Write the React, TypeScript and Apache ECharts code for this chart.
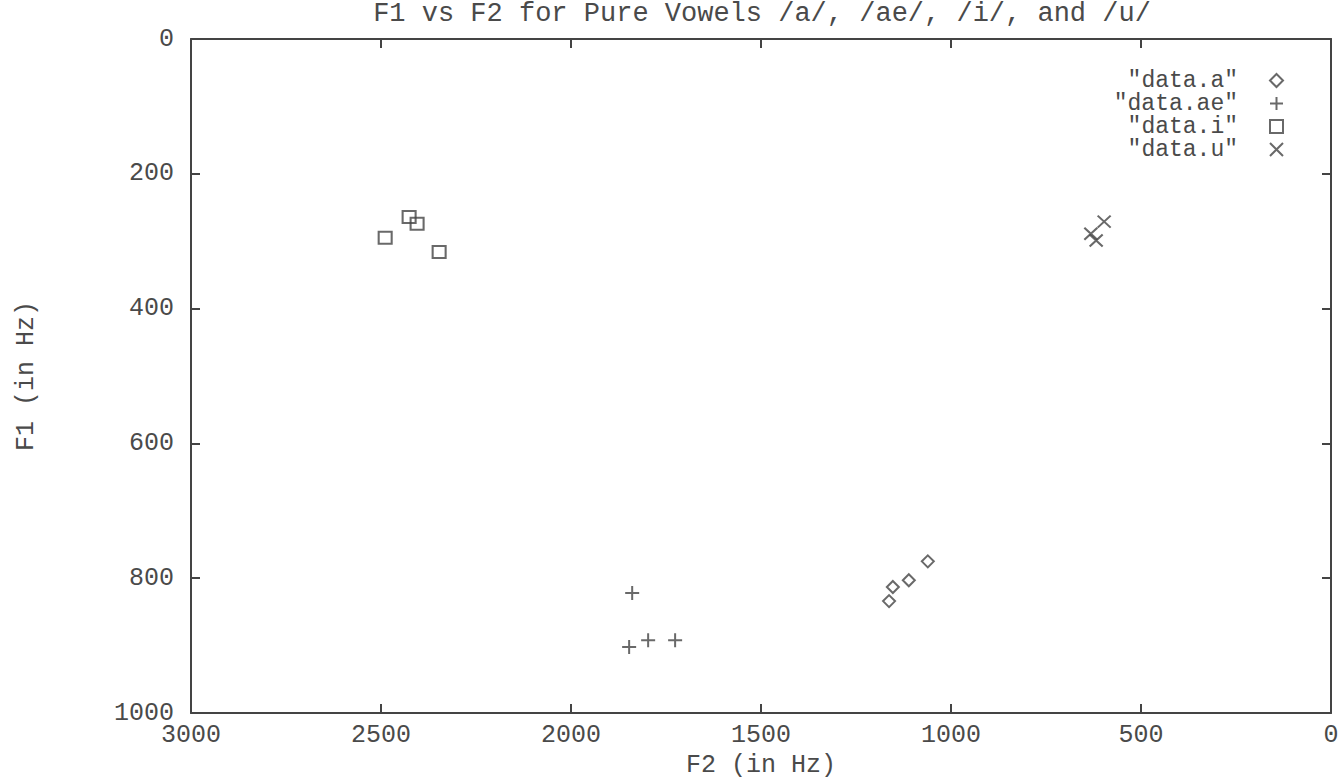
import React, { useEffect, useRef } from "react";
import * as echarts from "echarts";

const titleText = "F1 vs F2 for Pure Vowels /a/, /ae/, /i/, and /u/";
const xName = "F2 (in Hz)";
const yName = "F1 (in Hz)";

// [F2, F1]
const dataA: number[][] = [
  [1061, 775],
  [1111, 803],
  [1153, 813],
  [1163, 834],
];
const dataAE: number[][] = [
  [1839, 822],
  [1847, 902],
  [1797, 892],
  [1726, 892],
];
const dataI: number[][] = [
  [2489, 295],
  [2426, 264],
  [2405, 274],
  [2347, 316],
];
const dataU: number[][] = [
  [597, 271],
  [632, 289],
  [618, 299],
];

const seriesNames = ['"data.a"', '"data.ae"', '"data.i"', '"data.u"'];

const FONT = "Liberation Mono";
const INK = "#444";
const TEXT = "#4a4a4a";

export default function App() {
  const ref = useRef<HTMLDivElement>(null);
  useEffect(() => {
    document.body.style.margin = "0";
    if (!ref.current) return;
    const chart = echarts.init(ref.current, null, { renderer: "svg" });
    const hollow = {
      color: "transparent",
      borderColor: INK,
      borderWidth: 2,
    };
    const tick = { show: true, inside: true, length: 9, lineStyle: { color: INK, width: 2 } };
    const line = { show: true, onZero: false, lineStyle: { color: INK, width: 2 } };
    const baseAxisX = {
      type: "value" as const,
      min: 0,
      max: 3000,
      interval: 500,
      inverse: true,
      splitLine: { show: false },
      axisLine: line,
      axisTick: tick,
    };
    const baseAxisY = {
      type: "value" as const,
      min: 0,
      max: 1000,
      interval: 200,
      inverse: true,
      splitLine: { show: false },
      axisLine: line,
      axisTick: tick,
    };
    const labelStyle = { color: TEXT, fontFamily: FONT, fontSize: 25 };
    const fmt = (v: number) => String(v);
    chart.setOption({
      animation: false,
      backgroundColor: "#fff",
      title: {
        text: titleText,
        left: 762,
        textAlign: "center",
        top: 0,
        padding: 0,
        textStyle: { color: TEXT, fontFamily: FONT, fontSize: 27, fontWeight: "normal" },
      },
      grid: { left: 191, right: 11, top: 39, bottom: 65, outerBoundsMode: "none", containLabel: false },
      legend: {
        orient: "vertical",
        right: 53,
        top: 64,
        align: "right",
        itemGap: 0,
        itemWidth: 13,
        itemHeight: 13,
        data: seriesNames,
        textStyle: {
          color: TEXT,
          fontFamily: FONT,
          fontSize: 23,
          lineHeight: 23,
          width: 160,
          align: "right",
          padding: [0, 27, 0, 0],
        },
      },
      xAxis: [
        {
          ...baseAxisX,
          position: "bottom",
          name: xName,
          nameLocation: "middle",
          nameGap: 39,
          nameTextStyle: { ...labelStyle, lineHeight: 25 },
          axisLabel: { ...labelStyle, margin: 10, formatter: fmt },
        },
        {
          ...baseAxisX,
          position: "top",
          axisLabel: { show: false },
        },
      ],
      yAxis: [
        {
          ...baseAxisY,
          position: "left",
          name: yName,
          nameLocation: "middle",
          nameGap: 152,
          nameTextStyle: labelStyle,
          axisLabel: { ...labelStyle, margin: 17, formatter: fmt },
        },
        {
          ...baseAxisY,
          position: "right",
          axisLabel: { show: false },
        },
      ],
      series: [
        {
          name: seriesNames[0],
          type: "scatter",
          data: dataA,
          symbol: "diamond",
          symbolSize: [12, 12],
          itemStyle: hollow,
        },
        {
          name: seriesNames[1],
          type: "scatter",
          data: dataAE,
          symbol: "path://M0,6H12M6,0V12",
          symbolSize: [14, 14],
          itemStyle: hollow,
        },
        {
          name: seriesNames[2],
          type: "scatter",
          data: dataI,
          symbol: "rect",
          symbolSize: [13, 12],
          itemStyle: hollow,
        },
        {
          name: seriesNames[3],
          type: "scatter",
          data: dataU,
          symbol: "path://M0,0L12,12M12,0L0,12",
          symbolSize: [13, 12],
          itemStyle: hollow,
        },
      ],
    });
    return () => chart.dispose();
  }, []);
  return (
    <div
      ref={ref}
      style={{ position: "fixed", left: 0, top: 0, width: 1342, height: 778 }}
    />
  );
}
